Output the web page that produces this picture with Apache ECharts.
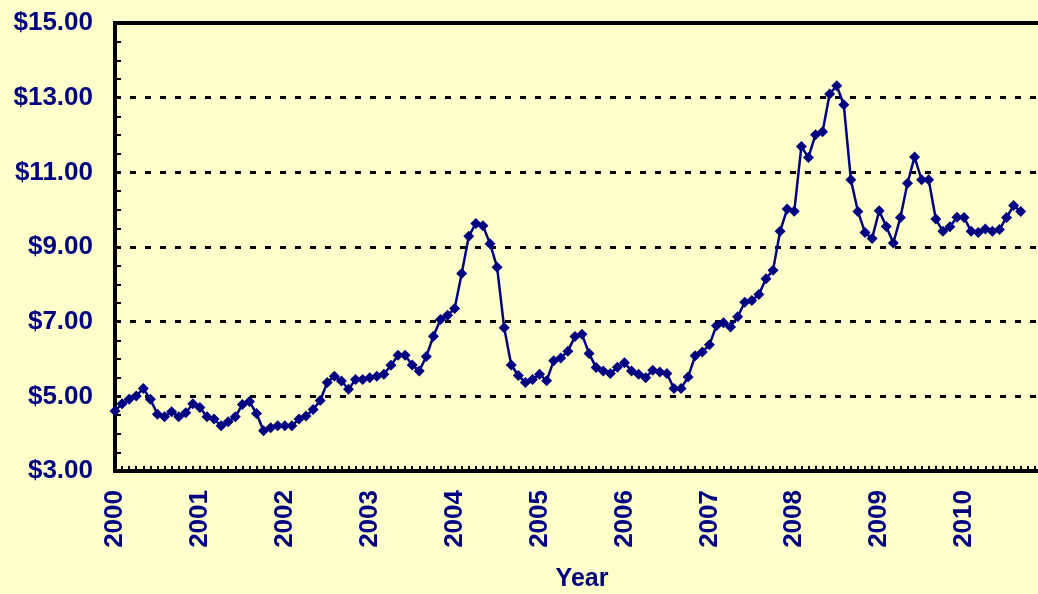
<!DOCTYPE html>
<html>
<head>
<meta charset="utf-8">
<script src="https://cdn.jsdelivr.net/npm/echarts@6/dist/echarts.min.js"></script>
<style>
html,body{margin:0;padding:0;background:#FFFFCC;}
#chart{width:1038px;height:594px;}
</style>
</head>
<body>
<div id="chart"></div>
<script>
// Monthly prices, Jan 2000 .. Sep 2010
const prices2000 = [4.61, 4.80, 4.92, 5.01, 5.21, 4.92, 4.52, 4.45, 4.59, 4.45, 4.56, 4.80];
const prices2001 = [4.70, 4.45, 4.39, 4.21, 4.32, 4.45, 4.78, 4.86, 4.54, 4.08, 4.16, 4.21];
const prices2002 = [4.21, 4.21, 4.39, 4.47, 4.65, 4.89, 5.37, 5.54, 5.41, 5.19, 5.45, 5.45];
const prices2003 = [5.50, 5.54, 5.59, 5.83, 6.10, 6.10, 5.84, 5.68, 6.07, 6.61, 7.06, 7.17];
const prices2004 = [7.35, 8.29, 9.29, 9.63, 9.57, 9.09, 8.46, 6.84, 5.84, 5.56, 5.37, 5.45];
const prices2005 = [5.59, 5.42, 5.95, 6.03, 6.21, 6.60, 6.66, 6.15, 5.77, 5.68, 5.61, 5.78];
const prices2006 = [5.90, 5.68, 5.59, 5.50, 5.70, 5.65, 5.61, 5.21, 5.21, 5.52, 6.09, 6.19];
const prices2007 = [6.38, 6.89, 6.97, 6.86, 7.13, 7.52, 7.57, 7.73, 8.15, 8.38, 9.42, 10.02];
const prices2008 = [9.96, 11.69, 11.40, 12.01, 12.09, 13.10, 13.32, 12.81, 10.80, 9.95, 9.39, 9.23];
const prices2009 = [9.97, 9.55, 9.11, 9.79, 10.71, 11.41, 10.80, 10.80, 9.75, 9.42, 9.54, 9.80];
const prices2010 = [9.79, 9.42, 9.39, 9.48, 9.42, 9.47, 9.79, 10.11, 9.95];

const yearLabels = ['2000','2001','2002','2003','2004','2005','2006','2007','2008','2009','2010'];
const xTitle = 'Year';

const prices = [].concat(prices2000, prices2001, prices2002, prices2003, prices2004,
  prices2005, prices2006, prices2007, prices2008, prices2009, prices2010);
const seriesData = prices.map((v, i) => [i, v]);

const navy = '#000080';
const font = "'Liberation Sans', Arial, sans-serif";

const chart = echarts.init(document.getElementById('chart'), null, {renderer: 'canvas'});
chart.setOption({
  backgroundColor: '#FFFFCC',
  animation: false,
  grid: {
    left: 115, top: 23, width: 934, height: 448,
    containLabel: false, outerBoundsMode: 'none',
    show: true, borderColor: '#000', borderWidth: 4, backgroundColor: '#FFFFCC'
  },
  xAxis: {
    type: 'value', min: 0, max: 132, interval: 12,
    axisLine: {show: true, lineStyle: {color: '#000', width: 4}},
    axisTick: {show: true, inside: true, length: 5, lineStyle: {color: '#000', width: 2}},
    minorTick: {show: true, splitNumber: 12, length: 5, lineStyle: {color: '#000', width: 2}},
    splitLine: {show: false},
    axisLabel: {
      rotate: 90, margin: 19, color: navy, fontSize: 26, fontWeight: 'bold', fontFamily: font,
      showMaxLabel: false,
      formatter: v => yearLabels[Math.round(v / 12)] || ''
    },
    name: xTitle, nameLocation: 'middle', nameGap: 96,
    nameTextStyle: {color: navy, fontSize: 25, fontWeight: 'bold', fontFamily: font}
  },
  yAxis: {
    type: 'value', min: 3, max: 15, interval: 2,
    axisLine: {show: true, lineStyle: {color: '#000', width: 4}},
    axisTick: {show: true, inside: true, length: 6, lineStyle: {color: '#000', width: 2}},
    minorTick: {show: true, splitNumber: 4, length: 6, lineStyle: {color: '#000', width: 2}},
    splitLine: {show: true, lineStyle: {color: '#000', width: 3, type: [6, 9]}},
    axisLabel: {
      margin: 22, color: navy, fontSize: 26, fontWeight: 'bold', fontFamily: font,
      formatter: v => '$' + v.toFixed(2)
    }
  },
  series: [{
    type: 'line',
    data: seriesData,
    symbol: 'diamond',
    symbolSize: 11,
    lineStyle: {color: navy, width: 2.5},
    itemStyle: {color: navy, borderColor: navy, borderWidth: 0},
    z: 3
  }]
});
</script>
</body>
</html>
